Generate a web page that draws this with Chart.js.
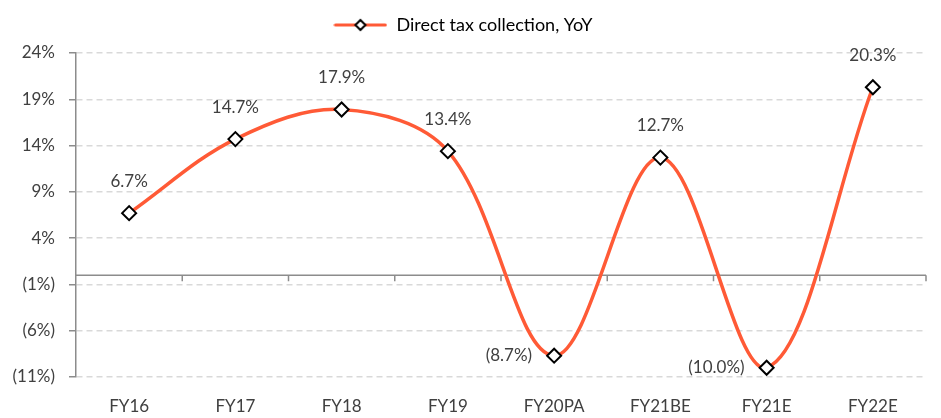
<!DOCTYPE html>
<html>
<head>
<meta charset="utf-8">
<script src="https://cdn.jsdelivr.net/npm/chart.js@4.4.1/dist/chart.umd.min.js"></script>
<style>
    html, body { margin: 0; padding: 0; background: #fff; }
    #wrap { width: 941px; height: 418px; }
</style>
</head>
<body>
<div id="wrap"><canvas id="taxChart" width="941" height="418"></canvas></div>
<script>
var categories = ['FY16', 'FY17', 'FY18', 'FY19', 'FY20PA', 'FY21BE', 'FY21E', 'FY22E'];
var yoyValues = [6.7, 14.7, 17.9, 13.4, -8.7, 12.7, -10.0, 20.3];
var yTicks = [-11, -6, -1, 4, 9, 14, 19, 24];
var seriesLabel = 'Direct tax collection, YoY';

var lineColor = '#ff5a36';
var textColor = '#404040';
var axisColor = '#8c8c8c';
var fontFamily = 'Lato, "Open Sans", sans-serif';

function pct(v, digits) {
    var s = Math.abs(v).toFixed(digits) + '%';
    return v < 0 ? '(' + s + ')' : s;
}

// legend marker: line with diamond
function legendMarker() {
    var c = document.createElement('canvas');
    c.width = 54;
    c.height = 14;
    var ctx = c.getContext('2d');
    ctx.strokeStyle = lineColor;
    ctx.lineWidth = 3;
    ctx.lineCap = 'round';
    ctx.beginPath();
    ctx.moveTo(2, 7);
    ctx.lineTo(52, 7);
    ctx.stroke();
    ctx.fillStyle = '#fff';
    ctx.strokeStyle = '#000';
    ctx.lineWidth = 2;
    ctx.beginPath();
    ctx.moveTo(27, 2);
    ctx.lineTo(32, 7);
    ctx.lineTo(27, 12);
    ctx.lineTo(22, 7);
    ctx.closePath();
    ctx.fill();
    ctx.stroke();
    return c;
}

// extra gap under the legend
var legendGapPlugin = {
    id: 'legendGap',
    beforeInit: function (chart) {
        var orig = chart.legend.fit;
        chart.legend.fit = function () {
            orig.call(this);
            this.height += 9;
        };
    }
};

// zero line with category tick marks
var zeroLinePlugin = {
    id: 'zeroLine',
    beforeDatasetsDraw: function (chart) {
        var x = chart.scales.x, y = chart.scales.y, ctx = chart.ctx;
        var y0 = y.getPixelForValue(0);
        var half = (x.getPixelForTick(1) - x.getPixelForTick(0)) / 2;
        ctx.save();
        ctx.strokeStyle = axisColor;
        ctx.lineWidth = 1.5;
        ctx.beginPath();
        ctx.moveTo(x.left, y0);
        ctx.lineTo(x.right, y0);
        for (var i = 0; i < categories.length; i++) {
            var bx = x.getPixelForTick(i) + half;
            ctx.moveTo(bx, y0);
            ctx.lineTo(bx, y0 + 6);
        }
        ctx.stroke();
        ctx.restore();
    }
};

var valueLabelPlugin = {
    id: 'valueLabels',
    afterDatasetsDraw: function (chart) {
        var ctx = chart.ctx;
        var meta = chart.getDatasetMeta(0);
        ctx.save();
        ctx.font = '17px ' + fontFamily;
        ctx.fillStyle = textColor;
        ctx.textBaseline = 'middle';
        meta.data.forEach(function (pt, i) {
            var v = yoyValues[i];
            if (v >= 0) {
                ctx.textAlign = 'center';
                ctx.fillText(pct(v, 1), pt.x, pt.y - 32);
            } else {
                ctx.textAlign = 'right';
                ctx.fillText(pct(v, 1), pt.x - 22, pt.y);
            }
        });
        ctx.restore();
    }
};

new Chart(document.getElementById('taxChart'), {
    type: 'line',
    data: {
        labels: categories,
        datasets: [{
            label: seriesLabel,
            data: yoyValues,
            borderColor: lineColor,
            borderWidth: 3.5,
            tension: 0.35,
            fill: false,
            pointStyle: 'rectRot',
            pointRadius: 7,
            pointBackgroundColor: '#fff',
            pointBorderColor: '#000',
            pointBorderWidth: 2,
        }],
    },
    options: {
        responsive: false,
        animation: false,
        layout: { padding: { top: 4, right: 15, bottom: 0, left: 0 } },
        plugins: {
            legend: {
                position: 'top',
                labels: {
                    usePointStyle: true,
                    pointStyleWidth: 54,
                    color: textColor,
                    font: { family: fontFamily, size: 18 },
                    padding: 12,
                    generateLabels: function (chart) {
                        return [{
                            text: seriesLabel,
                            pointStyle: legendMarker(),
                            fillStyle: lineColor,
                            strokeStyle: lineColor,
                            lineWidth: 0,
                            datasetIndex: 0,
                        }];
                    },
                },
            },
            tooltip: { enabled: false },
        },
        scales: {
            x: {
                offset: true,
                grid: { display: false },
                border: { display: false },
                ticks: {
                    color: textColor,
                    font: { family: fontFamily, size: 17 },
                    padding: 11,
                    maxRotation: 0,
                },
                afterFit: function (scale) { scale.height = 41; },
            },
            y: {
                min: -11,
                max: 24,
                afterBuildTicks: function (scale) {
                    scale.ticks = yTicks.map(function (v) { return { value: v }; });
                },
                grid: {
                    color: '#d9d9d9',
                    lineWidth: 1.5,
                    tickColor: axisColor,
                    tickLength: 7,
                    tickWidth: 1.5,
                },
                border: { color: axisColor, width: 1.5, dash: [6, 4] },
                ticks: {
                    color: textColor,
                    font: { family: fontFamily, size: 17 },
                    padding: 14,
                    callback: function (v) { return pct(v, 0); },
                },
                afterFit: function (scale) { scale.width = 76; },
            },
        },
    },
    plugins: [legendGapPlugin, zeroLinePlugin, valueLabelPlugin],
});
</script>
</body>
</html>
